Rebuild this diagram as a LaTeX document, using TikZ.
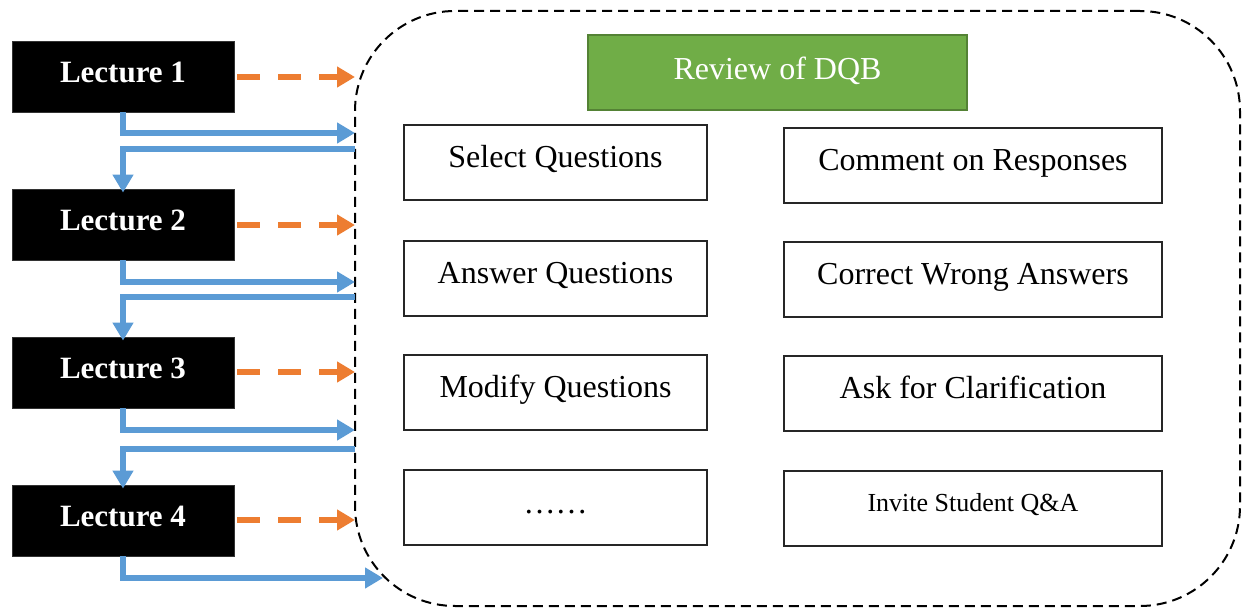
\documentclass[tikz,border=0pt]{standalone}
\usepackage{fontspec}
\setmainfont{Liberation Serif}
\usetikzlibrary{arrows.meta}
\definecolor{flowblue}{HTML}{5B9BD5}
\definecolor{reforange}{HTML}{ED7D31}
\definecolor{headgreen}{HTML}{70AD47}
\definecolor{headgreenline}{HTML}{548235}
\tikzset{
  lecture/.style={fill=black, draw=black!80, text=white, font=\bfseries\fontsize{15.5}{18}\selectfont,
    minimum width=111pt, minimum height=35.5pt, inner sep=0pt, text height=10.5pt, text depth=4pt},
  task/.style={draw=black!85, line width=0.75pt, fill=white, font=\fontsize{16}{19}\selectfont,
    minimum height=37.5pt, inner sep=0pt, text height=9.5pt, text depth=4pt},
  taskL/.style={task, minimum width=151.5pt},
  taskR/.style={task, minimum width=189pt},
  header/.style={fill=headgreen, draw=headgreenline, line width=0.8pt, text=white,
    font=\fontsize{16}{19}\selectfont, minimum width=189.5pt, minimum height=37.5pt, inner sep=0pt,
    text height=11pt, text depth=4pt},
  frame/.style={draw=black, line width=1pt, dash pattern=on 5pt off 3pt, rounded corners=50pt,
    minimum width=442.5pt, minimum height=297.5pt, inner sep=0pt},
  feedback/.style={draw=flowblue, line width=2.8pt,
    -{Triangle[length=9pt, width=10pt]}},
  refer/.style={draw=reforange, line width=2.8pt, dash pattern=on 11.5pt off 9pt,
    -{Triangle[length=9pt, width=10pt]}, shorten <=1.5pt}
}
\begin{document}
\begin{tikzpicture}[x=0.5pt, y=-0.5pt]
\useasboundingbox (0,0) rectangle (1244,609);

% review container
\node[frame] (box) at (797.5,308.5) {};

% lectures
\node[lecture] (L1) at (123,76.5) {Lecture 1};
\node[lecture] (L2) at (123,224.5) {Lecture 2};
\node[lecture] (L3) at (123,372.5) {Lecture 3};
\node[lecture] (L4) at (123,520.5) {Lecture 4};

% header and activities
\node[header] (head) at (777.5,72.5) {Review of DQB};
\node[taskL] (a1) at (555.5,162.5) {Select Questions};
\node[taskL] (a2) at (555.5,278.5) {Answer Questions};
\node[taskL] (a3) at (555.5,392.5) {Modify Questions};
\node[taskL, text height=10pt] (a4) at (555.5,507.5) {……};
\node[taskR] (b1) at (973,165.5) {Comment on Responses};
\node[taskR] (b2) at (973,279.5) {Correct Wrong Answers};
\node[taskR] (b3) at (973,393.5) {Ask for Clarification};
\node[taskR, font=\fontsize{13}{16}\selectfont, text height=7pt] (b4) at (973,508.5) {Invite Student Q\&A};

% entry points on the container border
\coordinate (o1) at (355,77);
\coordinate (o2) at (355,225);
\coordinate (o3) at (355,372);
\coordinate (o4) at (355,520);
\coordinate (in1) at (355,133);
\coordinate (out1) at (355,149);
\coordinate (in2) at (355,282);
\coordinate (out2) at (355,297);
\coordinate (in3) at (355,430);
\coordinate (out3) at (355,449);
\coordinate (in4) at (383,578);

% lecture -> review (dashed orange)
\draw[refer] (L1.east |- o1) -- (o1);
\draw[refer] (L2.east |- o2) -- (o2);
\draw[refer] (L3.east |- o3) -- (o3);
\draw[refer] (L4.east |- o4) -- (o4);

% lecture -> review -> next lecture (blue)
\draw[feedback] (L1.south) |- (in1);
\draw[feedback] (out1) -| ([yshift=-2pt]L2.north);
\draw[feedback] (L2.south) |- (in2);
\draw[feedback] (out2) -| ([yshift=-2pt]L3.north);
\draw[feedback] (L3.south) |- (in3);
\draw[feedback] (out3) -| ([yshift=-2pt]L4.north);
\draw[feedback] (L4.south) |- (in4);
\end{tikzpicture}
\end{document}
